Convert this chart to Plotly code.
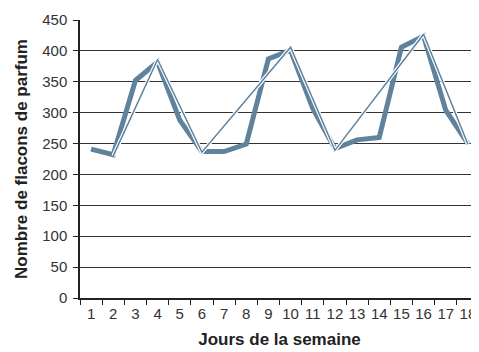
import plotly.graph_objects as go

days = [str(i) for i in range(1, 19)]
ventes = [241, 232, 352, 382, 288, 237, 237, 249, 387, 401, 307, 242, 256, 260, 406, 424, 304, 250]
tendance = [None, 230, None, 386, None, 236, None, None, None, 406, None, 239, None, None, None, 427, None, 249]
y_ticks = list(range(0, 451, 50))

BLUE = "#5f829d"
fig = go.Figure()
fig.add_trace(go.Scatter(x=days, y=ventes, mode="lines",
                         line=dict(color=BLUE, width=5), hoverinfo="skip"))
fig.add_trace(go.Scatter(x=days, y=tendance, mode="lines", connectgaps=True,
                         line=dict(color="white", width=3.8), hoverinfo="skip"))
fig.add_trace(go.Scatter(x=days, y=tendance, mode="lines", connectgaps=True,
                         line=dict(color=BLUE, width=1.5), hoverinfo="skip"))

# the page body adds an 8px margin, so the figure is sized/shifted to compensate
fig.update_layout(
    width=471, height=344,
    margin=dict(l=72, r=0, t=12, b=54, autoexpand=False),
    paper_bgcolor="white", plot_bgcolor="white",
    showlegend=False,
    font=dict(family="Liberation Sans, Arial", size=15, color="#333"),
)
fig.update_xaxes(
    type="category", range=[-0.5, 17.5], tickson="boundaries", tickangle=0,
    showline=True, linecolor="#222", linewidth=1.5,
    ticks="outside", ticklen=5, tickcolor="#222", showgrid=False,
    ticklabelstandoff=1,
    tickfont=dict(family="Liberation Sans, Arial", size=15, color="#333"),
    title=dict(text="Jours de la semaine", standoff=12,
               font=dict(family="Liberation Sans, Arial", size=17, color="#222", weight="bold")),
)
fig.update_yaxes(
    range=[0, 450], tickvals=y_ticks, ticktext=[str(v) for v in y_ticks],
    showline=True, linecolor="#222", linewidth=1.5,
    ticks="outside", ticklen=5, tickcolor="#222",
    ticklabelstandoff=3,
    showgrid=True, gridcolor="#333", gridwidth=1.3, zeroline=False,
    tickfont=dict(family="Liberation Sans, Arial", size=15, color="#333"),
    title=dict(text="Nombre de flacons de parfum", standoff=10,
               font=dict(family="Liberation Sans, Arial", size=17, color="#222", weight="bold")),
)
fig.write_html("out.html")
